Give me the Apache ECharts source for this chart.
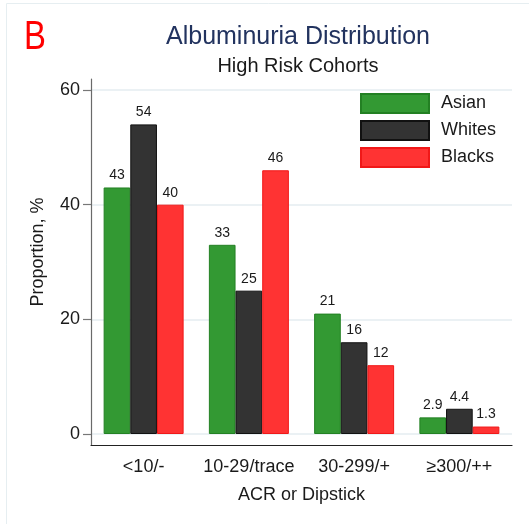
<!DOCTYPE html>
<html>
<head>
<meta charset="utf-8">
<script src="https://cdn.jsdelivr.net/npm/echarts@6/dist/echarts.min.js"></script>
<style>
  html, body { margin: 0; padding: 0; background: #ffffff; }
  #chart { width: 529px; height: 524px; }
</style>
</head>
<body>
<div id="chart"></div>
<script>
// Albuminuria categories (ACR or dipstick)
const categories = ['<10/-', '10-29/trace', '30-299/+', '≥300/++'];

// Proportion (%) of each cohort in each category
const asian  = [43, 33, 21, 2.9];
const whites = [54, 25, 16, 4.4];
const blacks = [40, 46, 12, 1.3];

// Y-axis ticks and labels
const yTicks = [0, 20, 40, 60];

const FONT = '"Liberation Sans", Arial, sans-serif';
const TEXT = '#1a1a1a';

const chart = echarts.init(document.getElementById('chart'), null, { renderer: 'canvas' });

function barSeries(name, values, fill, border) {
  return {
    name: name,
    type: 'bar',
    data: values,
    xAxisIndex: 0,
    yAxisIndex: 0,
    z: 3,
    barGap: '0%',
    barCategoryGap: '24%',
    itemStyle: { color: fill, borderColor: border, borderWidth: 1 },
    label: {
      show: true,
      position: 'top',
      distance: 5,
      fontFamily: FONT,
      fontSize: 14,
      color: TEXT
    }
  };
}

const option = {
  animation: false,
  backgroundColor: '#ffffff',
  textStyle: { fontFamily: FONT },
  graphic: [
    {
      type: 'rect',
      silent: true,
      shape: { x: 6.5, y: 3.5, width: 700, height: 700 },
      style: { fill: 'none', stroke: '#e6eef1', lineWidth: 1 }
    },
    {
      type: 'text',
      left: 24, top: 18,
      scaleX: 0.82,
      style: { text: 'B', fill: '#ff0000', font: '40px ' + FONT }
    },
    {
      type: 'text',
      x: 298, y: 37,
      style: {
        text: 'Albuminuria Distribution',
        fill: '#22335f',
        font: '25px ' + FONT,
        align: 'center',
        verticalAlign: 'middle'
      }
    },
    {
      type: 'text',
      x: 298, y: 66,
      style: {
        text: 'High Risk Cohorts',
        fill: TEXT,
        font: '20px ' + FONT,
        align: 'center',
        verticalAlign: 'middle'
      }
    },
    {
      type: 'text',
      x: 38, y: 252,
      rotation: Math.PI / 2,
      style: {
        text: 'Proportion, %',
        fill: TEXT,
        font: '18px ' + FONT,
        align: 'center',
        verticalAlign: 'middle'
      }
    }
  ],
  legend: {
    data: ['Asian', 'Whites', 'Blacks'],
    orient: 'vertical',
    left: 360,
    top: 93,
    padding: 0,
    itemWidth: 68,
    itemHeight: 19,
    itemGap: 6,
    icon: 'rect',
    textStyle: { fontFamily: FONT, fontSize: 18, color: TEXT, padding: [0, 0, 0, 7] }
  },
  grid: [
    // main plot area (axis range extends slightly beyond 0..60)
    { left: 91, right: 17, top: 79, bottom: 79, containLabel: false },
    // background grid lines spanning exactly 0..60
    { left: 91, right: 17, top: 90, bottom: 90, containLabel: false }
  ],
  xAxis: [
    {
      type: 'category',
      gridIndex: 0,
      data: categories,
      axisLine: { onZero: false, lineStyle: { color: '#222222', width: 1.2 } },
      axisTick: { alignWithLabel: true, length: 7, lineStyle: { color: '#777777', width: 1.2 } },
      axisLabel: { interval: 0, hideOverlap: false, margin: 13, fontFamily: FONT, fontSize: 18, color: TEXT },
      name: 'ACR or Dipstick',
      nameLocation: 'middle',
      nameGap: 41,
      nameTextStyle: { fontFamily: FONT, fontSize: 18, color: TEXT }
    },
    {
      type: 'category',
      gridIndex: 1,
      data: categories,
      show: false
    }
  ],
  yAxis: [
    {
      type: 'value',
      gridIndex: 0,
      min: -1.92,
      max: 61.92,
      axisLine: { show: true, onZero: false, lineStyle: { color: '#6a6a6a', width: 1.2 } },
      axisTick: { show: true, length: 8, customValues: yTicks, lineStyle: { color: '#777777', width: 1.2 } },
      axisLabel: { margin: 11, fontFamily: FONT, fontSize: 18, color: TEXT, customValues: yTicks },
      splitLine: { show: false }
    },
    {
      type: 'value',
      gridIndex: 1,
      min: 0,
      max: 60,
      interval: 20,
      z: 0,
      axisLine: { show: false },
      axisTick: { show: false },
      axisLabel: { show: false },
      splitLine: { show: true, lineStyle: { color: '#e4ecf0', width: 1.5 } }
    }
  ],
  series: [
    barSeries('Asian', asian, '#339933', '#238023'),
    barSeries('Whites', whites, '#333333', '#111111'),
    barSeries('Blacks', blacks, '#ff3333', '#f01818')
  ]
};

chart.setOption(option);
</script>
</body>
</html>
